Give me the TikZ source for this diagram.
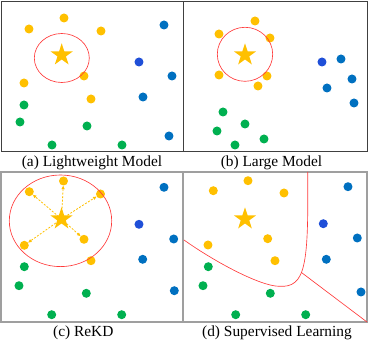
\documentclass[tikz,border=0pt]{standalone}
\usepackage{fontspec}
\setmainfont{Liberation Serif}
\usetikzlibrary{shapes.geometric,arrows.meta}
\definecolor{cy}{HTML}{FFC000}
\definecolor{cg}{HTML}{00B050}
\definecolor{cb}{HTML}{0070C0}
\definecolor{cdb}{HTML}{1F4FD8}
\definecolor{cred}{HTML}{FF3B3B}
\definecolor{frm}{HTML}{404040}
\tikzset{
  dot/.style={circle,inner sep=0pt,minimum size=9pt,draw=none},
  ydot/.style={dot,fill=cy},
  gdot/.style={dot,fill=cg},
  bdot/.style={dot,fill=cb},
  dbdot/.style={dot,fill=cdb},
  center star/.style={star,star points=5,star point ratio=2.618,inner sep=0pt,minimum size=23.4pt,fill=cy,draw=none},
  frame/.style={draw=frm,line width=0.9pt},
  lframe/.style={draw=gray!75,line width=1.1pt},
  redline/.style={draw=cred,line width=0.65pt},
  ray/.style={draw=cy,dashed,dash pattern=on 2pt off 1.5pt,line width=0.8pt,-{Triangle[length=3.5pt,width=3pt]}},
  captext/.style={anchor=base,inner sep=0pt,font=\fontsize{15.4}{18}\selectfont}
}
\begin{document}
\begin{tikzpicture}[x=1pt,y=-1pt]
\useasboundingbox (0,0) rectangle (368,350);
% frames
\draw[frame] (1,1) rectangle (183,151);
\draw[frame] (183,1) rectangle (367,151);
\draw[lframe] (1,172) rectangle (183,322);
\draw[lframe] (183,172) rectangle (367,322);

% ---------- (a) ----------
\node[ydot] (a1) at (64,18) {};
\node[ydot] (a2) at (29,29) {};
\node[ydot] (a3) at (101,31) {};
\node[ydot] (a4) at (24,83) {};
\node[ydot] (a5) at (84,76) {};
\node[ydot] (a6) at (91,99) {};
\node[center star] (as) at (61.7,55) {};
\draw[redline] (61.8,58) ellipse [x radius=27.5, y radius=24.5];
\node[gdot] (ag1) at (24,105) {};
\node[gdot] (ag2) at (20,122) {};
\node[gdot] (ag3) at (87,126) {};
\node[gdot] (ag4) at (52,145) {};
\node[gdot] (ag5) at (122,145) {};
\node[bdot] (ab1) at (164,25) {};
\node[dbdot] (ab2) at (139,62) {};
\node[bdot] (ab3) at (172,76) {};
\node[bdot] (ab4) at (143,97) {};
\node[bdot] (ab5) at (169,136) {};
\node[captext] (capa) at (92,167) {(a) Lightweight Model};

% ---------- (b) ----------
\node[ydot] (b1) at (255,21) {};
\node[ydot] (b2) at (219,34) {};
\node[ydot] (b3) at (270,38) {};
\node[ydot] (b4) at (219,75) {};
\node[ydot] (b5) at (267,76) {};
\node[ydot] (b6) at (258,86) {};
\node[center star] (bs) at (245,55) {};
\draw[redline] (245,54.3) ellipse [x radius=27.7, y radius=27];
\node[dbdot] (bb1) at (322,62) {};
\node[bdot] (bb2) at (341,59) {};
\node[bdot] (bb3) at (352,79) {};
\node[bdot] (bb4) at (327,88) {};
\node[bdot] (bb5) at (354,103) {};
\node[gdot] (bg1) at (223,112) {};
\node[gdot] (bg2) at (217,131) {};
\node[gdot] (bg3) at (245,124) {};
\node[gdot] (bg4) at (264,139) {};
\node[gdot] (bg5) at (235,145) {};
\node[captext] (capb) at (271.5,167) {(b) Large Model};

% ---------- (c) ----------
\node[ydot] (c1) at (63.5,181) {};
\node[ydot] (c2) at (29.3,191.7) {};
\node[ydot] (c3) at (100.5,194) {};
\node[ydot] (c4) at (24.3,245.3) {};
\node[ydot] (c5) at (84,239.3) {};
\node[ydot] (c6) at (91,260.7) {};
\node[center star] (cs) at (61.5,219) {};
\draw[redline] (60.5,220.8) ellipse [x radius=51.2, y radius=45.8];
\foreach \t in {c1,c2,c3,c4,c5}
  \draw[ray] (cs.center) -- (\t);
\node[gdot] (cg1) at (24.3,266.7) {};
\node[gdot] (cg2) at (19,285.7) {};
\node[gdot] (cg3) at (86.3,293.3) {};
\node[gdot] (cg4) at (51.7,314.7) {};
\node[gdot] (cg5) at (121.7,314.7) {};
\node[bdot] (cb1) at (164,187.3) {};
\node[dbdot] (cb2) at (139,224.3) {};
\node[bdot] (cb3) at (173.7,239) {};
\node[bdot] (cb4) at (142.7,259.3) {};
\node[bdot] (cb5) at (174.3,290.7) {};
\node[captext] (capc) at (83.3,336.7) {(c) ReKD};

% ---------- (d) ----------
\node[ydot] (d1) at (248,180.7) {};
\node[ydot] (d2) at (213.3,190.7) {};
\node[ydot] (d3) at (284,193) {};
\node[ydot] (d4) at (208,245) {};
\node[ydot] (d5) at (267.7,238.7) {};
\node[ydot] (d6) at (275,260.7) {};
\node[center star] (ds) at (245,219) {};
\node[gdot] (dg1) at (208.3,266.7) {};
\node[gdot] (dg2) at (203,285.7) {};
\node[gdot] (dg3) at (270.3,293.3) {};
\node[gdot] (dg4) at (235.7,314.7) {};
\node[gdot] (dg5) at (305.7,314.7) {};
\node[bdot] (db1) at (348,186.7) {};
\node[dbdot] (db2) at (323.3,223.7) {};
\node[bdot] (db3) at (357.3,238) {};
\node[bdot] (db4) at (326.3,259.3) {};
\node[bdot] (db5) at (361,292) {};
\coordinate (dtop) at (307.7,172);
\coordinate (dbot) at (279,286.3);
\coordinate (dleft) at (184,240);
\coordinate (djoin) at (301.3,272.4);
\coordinate (dcorner) at (367,322);
\draw[redline] (dtop) .. controls (308.5,265) and (306,288) .. (dbot)
  .. controls (260,286) and (215,262) .. (dleft);
\draw[redline] (djoin) -- (dcorner);
\node[captext] (capd) at (277,336.7) {(d) Supervised Learning};
\end{tikzpicture}
\end{document}
